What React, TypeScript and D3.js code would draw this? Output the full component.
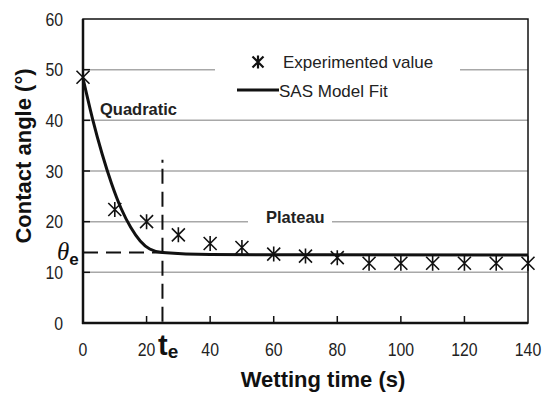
import { useEffect, useRef } from "react";
import * as d3 from "d3";

const W = 546;
const H = 393;
const MARGIN = { top: 19, right: 18, bottom: 70, left: 83 };

// measured contact angle (deg) vs wetting time (s)
const TIMES = [0, 10, 20, 30, 40, 50, 60, 70, 80, 90, 100, 110, 120, 130, 140];
const ANGLES = [48.5, 22.4, 20.0, 17.4, 15.7, 14.9, 13.6, 13.2, 12.9, 11.8, 11.8, 11.8, 11.8, 11.8, 11.8];

// SAS model fit
const FIT_T = [0, 3, 6, 9, 12, 15, 18, 21, 25, 40, 140];
const FIT_Y = [48.3, 40.3, 33.4, 27.5, 22.6, 18.9, 16.2, 14.6, 13.9, 13.5, 13.4];

const X_TICKS = [0, 20, 40, 60, 80, 100, 120, 140];
const Y_TICKS = [0, 10, 20, 30, 40, 50, 60];
const T_E = 25;
const THETA_E = 13.9;

const SANS = "'Liberation Sans', Arial, sans-serif";

function drawChart(el: SVGSVGElement) {
  const svg = d3.select(el);
  svg.selectAll("*").remove();

  const innerW = W - MARGIN.left - MARGIN.right;
  const innerH = H - MARGIN.top - MARGIN.bottom;
  const x = d3.scaleLinear().domain([0, 140]).range([MARGIN.left, MARGIN.left + innerW]);
  const y = d3.scaleLinear().domain([0, 60]).range([MARGIN.top + innerH, MARGIN.top]);

  svg.append("rect").attr("width", W).attr("height", H).attr("fill", "white");

  // grid lines
  Y_TICKS.filter((v) => v > 0 && v < 60).forEach((v) => {
    svg.append("line")
      .attr("x1", x(0)).attr("x2", x(140))
      .attr("y1", y(v)).attr("y2", y(v))
      .attr("stroke", "#a8a8a8").attr("stroke-width", 1.5);
  });

  // legend box background (hides grid line)
  svg.append("rect")
    .attr("x", 215).attr("y", 45).attr("width", 245).attr("height", 58)
    .attr("fill", "white");

  // Plateau label background
  svg.append("rect")
    .attr("x", 248).attr("y", y(20) - 16).attr("width", 84).attr("height", 22)
    .attr("fill", "white");

  // frame
  svg.append("rect")
    .attr("x", x(0)).attr("y", y(60))
    .attr("width", x(140) - x(0)).attr("height", y(0) - y(60))
    .attr("fill", "none").attr("stroke", "#111").attr("stroke-width", 1.5);
  svg.append("line")
    .attr("x1", x(0)).attr("x2", x(0)).attr("y1", y(60)).attr("y2", y(0) + 1)
    .attr("stroke", "#111").attr("stroke-width", 2.5);
  svg.append("line")
    .attr("x1", x(0) - 1).attr("x2", x(140)).attr("y1", y(0)).attr("y2", y(0))
    .attr("stroke", "#111").attr("stroke-width", 2.5);

  // ticks (inward)
  X_TICKS.filter((v) => v > 0 && v < 140).forEach((v) => {
    svg.append("line")
      .attr("x1", x(v)).attr("x2", x(v)).attr("y1", y(0)).attr("y2", y(0) - 7)
      .attr("stroke", "#111").attr("stroke-width", 1.5);
  });
  Y_TICKS.filter((v) => v > 0 && v < 60).forEach((v) => {
    svg.append("line")
      .attr("x1", x(0)).attr("x2", x(0) + 7).attr("y1", y(v)).attr("y2", y(v))
      .attr("stroke", "#111").attr("stroke-width", 1.5);
  });

  // tick labels (slightly condensed)
  X_TICKS.forEach((v) => {
    svg.append("text")
      .attr("transform", `translate(${x(v)},${y(0) + 33}) scale(0.88,1)`)
      .attr("text-anchor", "middle")
      .attr("font-family", SANS).attr("font-size", 18).attr("fill", "#222")
      .text(v);
  });
  Y_TICKS.forEach((v) => {
    svg.append("text")
      .attr("transform", `translate(${x(0) - 20},${y(v) + 6.5}) scale(0.88,1)`)
      .attr("text-anchor", "end")
      .attr("font-family", SANS).attr("font-size", 18).attr("fill", "#222")
      .text(v);
  });

  // axis titles
  svg.append("text")
    .attr("x", 323).attr("y", 387)
    .attr("text-anchor", "middle")
    .attr("font-family", SANS).attr("font-size", 22).attr("font-weight", "bold")
    .attr("fill", "#111")
    .text("Wetting time (s)");
  svg.append("text")
    .attr("transform", `translate(31,156) rotate(-90)`)
    .attr("text-anchor", "middle")
    .attr("font-family", SANS).attr("font-size", 22).attr("font-weight", "bold")
    .attr("fill", "#111")
    .text("Contact angle (°)");

  // equilibrium dashed lines
  svg.append("line")
    .attr("x1", x(0)).attr("x2", x(T_E) + 2)
    .attr("y1", y(THETA_E)).attr("y2", y(THETA_E))
    .attr("stroke", "#111").attr("stroke-width", 2)
    .attr("stroke-dasharray", "15,8");
  svg.append("line")
    .attr("x1", x(T_E)).attr("x2", x(T_E))
    .attr("y1", y(32.2)).attr("y2", y(0))
    .attr("stroke", "#111").attr("stroke-width", 2)
    .attr("stroke-dasharray", "3,6,15,8,15,8,15,8,15,8,15,8,15,8,15,8,15,8");

  // fit curve
  const fitData = FIT_T.map((t, i) => [t, FIT_Y[i]] as [number, number]);
  const line = d3.line<[number, number]>()
    .x((d) => x(d[0])).y((d) => y(d[1]))
    .curve(d3.curveMonotoneX);
  svg.append("path")
    .datum(fitData)
    .attr("d", line)
    .attr("fill", "none").attr("stroke", "#111").attr("stroke-width", 3);

  // asterisk markers
  const star = (g: d3.Selection<SVGGElement, unknown, null, undefined>, s: number, sw: number) => {
    g.append("path")
      .attr("d", `M${-s},${-s}L${s},${s}M${-s},${s}L${s},${-s}M0,${-s - 1}L0,${s + 1}`)
      .attr("stroke", "#111").attr("stroke-width", sw).attr("fill", "none");
  };
  TIMES.forEach((t, i) => {
    const g = svg.append("g").attr("transform", `translate(${x(t)},${y(ANGLES[i])})`);
    star(g, 6.5, 1.6);
  });

  // legend
  const lg = svg.append("g").attr("transform", `translate(258,62)`);
  star(lg, 5.5, 2.2);
  svg.append("text")
    .attr("x", 283).attr("y", 68)
    .attr("font-family", SANS).attr("font-size", 17).attr("fill", "#222")
    .text("Experimented value");
  svg.append("line")
    .attr("x1", 237).attr("x2", 279).attr("y1", 90).attr("y2", 90)
    .attr("stroke", "#111").attr("stroke-width", 3);
  svg.append("text")
    .attr("x", 279).attr("y", 97)
    .attr("font-family", SANS).attr("font-size", 17).attr("fill", "#222")
    .text("SAS Model Fit");

  // region labels
  svg.append("text")
    .attr("x", 100).attr("y", 115)
    .attr("font-family", SANS).attr("font-size", 16.5).attr("font-weight", "bold")
    .attr("fill", "#222")
    .text("Quadratic");
  svg.append("text")
    .attr("x", 266).attr("y", 223)
    .attr("font-family", SANS).attr("font-size", 16.5).attr("font-weight", "bold")
    .attr("fill", "#222")
    .text("Plateau");

  // theta_e
  const th = svg.append("text").attr("x", 57).attr("y", 260).attr("fill", "#111");
  th.append("tspan")
    .attr("font-family", "'Liberation Serif', 'Times New Roman', serif")
    .attr("font-style", "italic").attr("font-size", 25)
    .text("θ");
  th.append("tspan")
    .attr("font-family", SANS).attr("font-weight", "bold").attr("font-size", 17)
    .attr("dy", 5)
    .text("e");

  // t_e
  const te = svg.append("text").attr("x", 158).attr("y", 355).attr("fill", "#111");
  te.append("tspan")
    .attr("font-family", SANS).attr("font-weight", "bold").attr("font-size", 29)
    .text("t");
  te.append("tspan")
    .attr("font-family", SANS).attr("font-weight", "bold").attr("font-size", 19)
    .attr("dy", 3)
    .text("e");
}

export default function App() {
  const ref = useRef<SVGSVGElement>(null);
  useEffect(() => {
    if (ref.current) drawChart(ref.current);
  }, []);
  return (
    <div style={{ position: "absolute", left: 0, top: 0 }}>
      <svg ref={ref} width={W} height={H} style={{ display: "block" }} />
    </div>
  );
}
